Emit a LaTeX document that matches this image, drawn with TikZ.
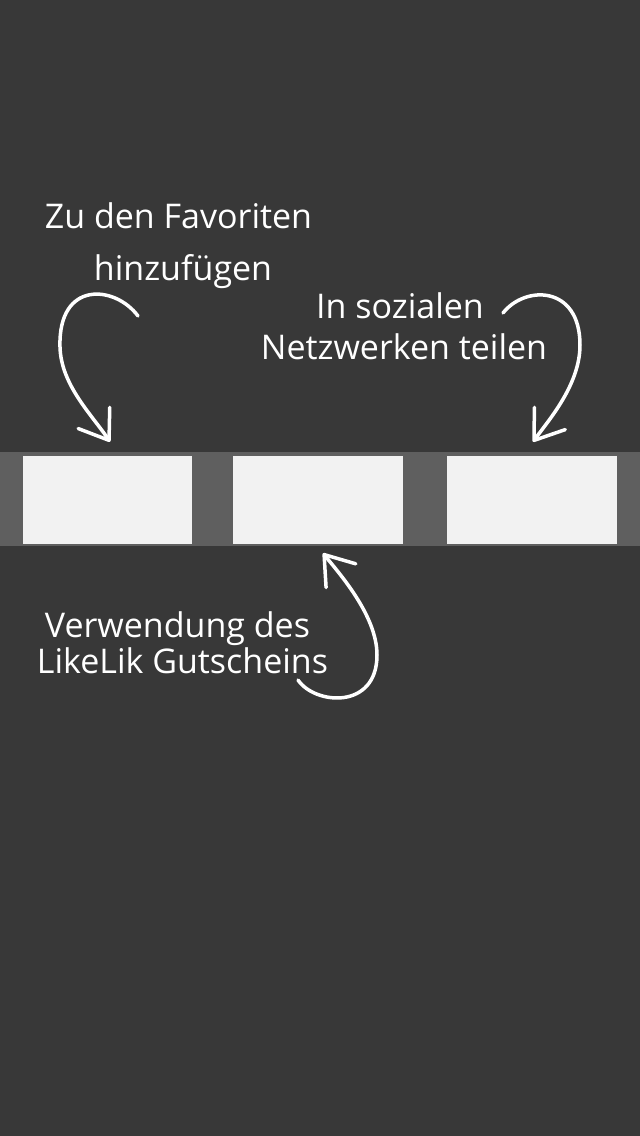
\documentclass[tikz,border=0pt]{standalone}
\usepackage{fontspec}
\setmainfont{Open Sans}
\usetikzlibrary{arrows.meta}

\definecolor{backdrop}{HTML}{383838}
\definecolor{bandgray}{HTML}{5F5F5F}
\definecolor{slotwhite}{HTML}{F2F2F2}

\begin{document}
\begin{tikzpicture}[
                        x = 1pt, y = -1pt,
                        > = {Straight Barb[length=27pt, width=38pt, line width=3.5pt, round]},
                        node distance = 52pt,
                        font = \fontsize{34}{40}\selectfont
                        ]

                        \tikzstyle{slot}=[
                                minimum width = 171pt,
                                minimum height = 89pt,
                                inner sep = 0pt
                        ]
                        \tikzstyle{caption}=[
                                text = white,
                                inner sep = 0pt,
                                text height = 26pt,
                                text depth = 8pt
                        ]
                        \tikzstyle{stroke}=[
                                ->,
                                draw = white,
                                line width = 3.5pt,
                                line cap = round
                        ]

                        \fill[backdrop] (0,0) rectangle (640,1136);
                        \fill[bandgray] (0,452) rectangle (640,546);

                        \node[slot] (fav) at (107.5,500) {};
                        \node[slot] (coupon) at (318,500) {};
                        \node[slot] (share) at (532,500) {};

                        % blurred fill of the three slots
                        \foreach \n in {fav,coupon,share}
                          \foreach \i [evaluate=\i as \o using 1/(5-\i)] in {-3,...,4}
                            \fill[slotwhite, opacity=\o]
                              ([shift={(\i,\i)}]\n.north west) rectangle ([shift={(-\i,-\i)}]\n.south east);

                        \node[caption] (favA) at (178.5,219) {Zu den Favoriten};
                        \node[caption] (favB) [below of=favA, xshift=4.5pt] {hinzufügen};
                        \node[caption] (shareA) at (400,309) {In sozialen};
                        \node[caption] (shareB) [below of=shareA, node distance=41pt, xshift=4pt] {Netzwerken teilen};
                        \node[caption] (couponA) at (177.5,628) {Verwendung des};
                        \node[caption] (couponB) [below of=couponA, node distance=36pt, xshift=5pt] {LikeLik Gutscheins};

                        \coordinate (favtail) at (138,316);
                        \coordinate (sharetail) at (503,313);
                        \coordinate (coupontail) at (298,680);

                        \draw[stroke] (favtail) .. controls (115,285) and (58,280) .. (60,347)
                                .. controls (61,385) and (92,415) .. ([shift={(2.5,-13.5)}]fav.north);
                        \draw[stroke] (sharetail) .. controls (525,285) and (580,285) .. (580,345)
                                .. controls (580,385) and (548,421) .. ([shift={(1,-13.5)}]share.north);
                        \draw[stroke] (coupontail) .. controls (315,705) and (377,710) .. (377,655)
                                .. controls (377,615) and (338,572) .. ([shift={(5,8.5)}]coupon.south);
                \end{tikzpicture}
\end{document}
